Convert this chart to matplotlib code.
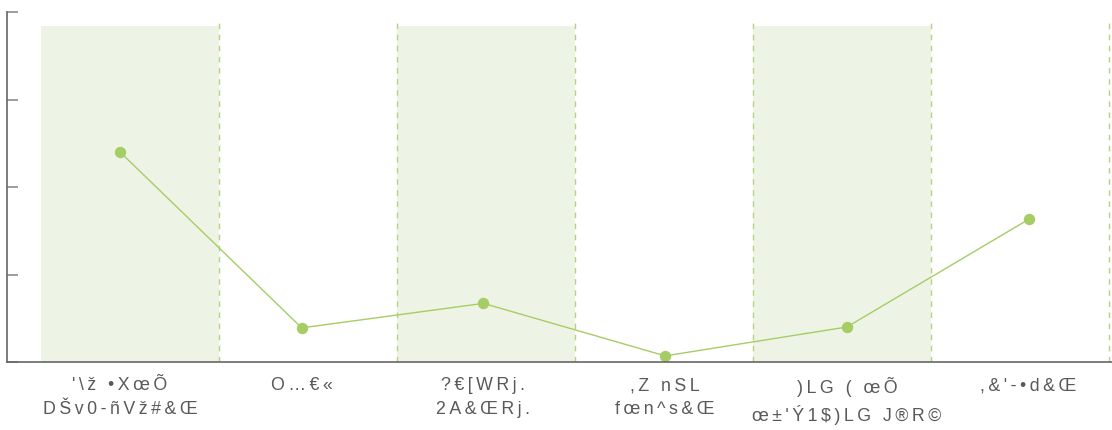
import matplotlib
matplotlib.use("Agg")
import matplotlib.pyplot as plt

plt.rcParams["font.family"] = ["Liberation Sans", "DejaVu Sans"]

# category labels (two lines each), as they appear in the reference
LABELS_TOP = ["'\\ž •XœÕ", "O…€«", "?€[WRj.", ",Z nSL", ")LG ( œÕ", ",&'-•d&Œ"]
LABELS_BOT = ["DŠv0-ñVž#&Œ", "", "2A&ŒRj.", "fœn^s&Œ", "œ±'Ý1$)LG J®R©", ""]
VALUES = [24.0, 3.9, 6.7, 0.7, 4.0, 16.3]
SHADED = [True, False, True, False, True, False]   # alternating band fill
YTICKS = [0, 10, 20, 30, 40]

GREEN = "#a6cd65"
BAND = "#eef4e5"
GREY = "#595959"


def _spread(s):
    # the reference draws its labels with wide letter spacing
    return "\u2009".join(s)


fig = plt.figure(figsize=(11.12, 4.30), dpi=100)
ax = fig.add_axes([7 / 1112, 68 / 430, 1105 / 1112, 350 / 430])

# band axis: each category occupies [k, k+1]
axb = ax.twiny()
ax.set_zorder(axb.get_zorder() + 1)
ax.patch.set_visible(False)
n = len(VALUES)
for k in range(n):
    if SHADED[k]:
        axb.axvspan(k, k + 1, ymin=0, ymax=0.96, color=BAND, lw=0)
    axb.axvline(k + 1, ymin=0, ymax=0.98, color="#b3d47f", lw=1.0, ls=(0, (4, 4)))
axb.set_xlim(-0.193, 6.018)
axb.set_xticks([])
for sp in axb.spines.values():
    sp.set_visible(False)

# series axis
xs = list(range(n))
ax.plot(xs, VALUES, color=GREEN, lw=1.0, marker="o", ms=7.2, mec=GREEN, mfc=GREEN)
ax.set_xlim(-0.622, 5.459)
ax.set_ylim(YTICKS[0], YTICKS[-1])
ax.set_yticks(YTICKS)
ax.set_yticklabels([])
ax.tick_params(axis="y", direction="in", length=8, width=1.2, color="#8c8c8c")
ax.set_xticks(xs)
ax.set_xticklabels([_spread(t) + ("\n" + _spread(b) if b else "") for t, b in zip(LABELS_TOP, LABELS_BOT)],
                   fontsize=12.8, color=GREY, linespacing=1.5)
ax.tick_params(axis="x", length=0, pad=11)
for side in ("top", "right"):
    ax.spines[side].set_visible(False)
for side in ("left", "bottom"):
    ax.spines[side].set_color("#666666")
    ax.spines[side].set_linewidth(1.2)
axb.set_ylim(ax.get_ylim())

fig.savefig("out.png", dpi=100)
